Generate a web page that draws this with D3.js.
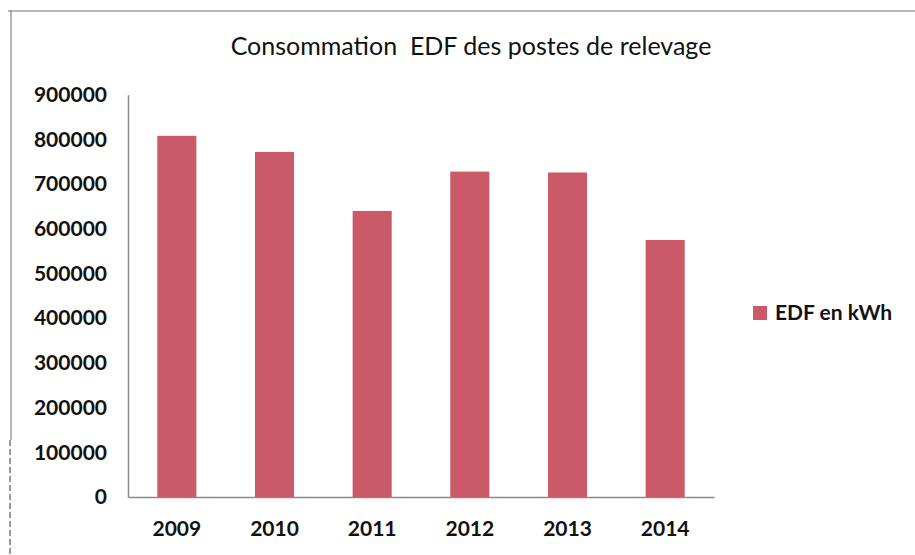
<!DOCTYPE html>
<html>
<head>
<meta charset="utf-8">
<script src="https://cdn.jsdelivr.net/npm/d3@7"></script>
<style>
  body { margin: 0; background: #fff; }
  svg { display: block; }
  svg text { font-family: Lato, "Noto Sans", sans-serif; }
</style>
</head>
<body>
<div id="chart"></div>
<script>
// données
var annees = ["2009", "2010", "2011", "2012", "2013", "2014"];
var edfKwh = [808000, 772000, 640000, 728000, 726000, 575000];
var graduations = [0, 100000, 200000, 300000, 400000, 500000, 600000, 700000, 800000, 900000];
var titre = "Consommation\u00a0\u00a0EDF des postes de relevage";
var legende = "EDF en kWh";

var W = 915, H = 555;
var couleur = "#cb5a69";

var svg = d3.select("#chart")
    .append("svg")
    .attr("width", W)
    .attr("height", H);

// cadre (bord haut et gauche)
svg.append("line")
    .attr("x1", 8).attr("x2", W).attr("y1", 11).attr("y2", 11)
    .attr("stroke", "#b8b8c0").attr("stroke-width", 2);
svg.append("line")
    .attr("x1", 11).attr("x2", 11).attr("y1", 10).attr("y2", 440)
    .attr("stroke", "#9a9a9a").attr("stroke-width", 1.5);
svg.append("line")
    .attr("x1", 10).attr("x2", 10).attr("y1", 440).attr("y2", H)
    .attr("stroke", "#555").attr("stroke-width", 1.2)
    .attr("stroke-dasharray", "6,3");

var x = d3.scaleBand()
    .domain(annees)
    .range([128, 714])
    .paddingInner(0.6)
    .paddingOuter(0.3);

var y = d3.scaleLinear()
    .domain([0, 900000])
    .range([497, 94.7]);

// axe Y
var axeY = svg.append("g")
    .attr("transform", "translate(128,0)")
    .call(d3.axisLeft(y).tickValues(graduations).tickSize(0).tickPadding(21).tickFormat(d3.format("d")));
axeY.attr("font-family", null);
axeY.select(".domain").attr("stroke", "#8a8a8a").attr("stroke-width", 1.5);
axeY.selectAll("text")
    .attr("font-size", 21)
    .attr("font-weight", "bold")
    .attr("fill", "#111");

// axe X
var axeX = svg.append("g")
    .attr("transform", "translate(0,497)")
    .call(d3.axisBottom(x).tickSize(0).tickPadding(24));
axeX.attr("font-family", null);
axeX.select(".domain").attr("stroke", "#8a8a8a").attr("stroke-width", 1.5);
axeX.selectAll("text")
    .attr("font-size", 21)
    .attr("font-weight", "bold")
    .attr("fill", "#111");

// barres
svg.append("g")
    .selectAll("rect")
    .data(edfKwh)
    .enter()
    .append("rect")
    .attr("x", (d, i) => x(annees[i]))
    .attr("y", d => y(d))
    .attr("width", x.bandwidth())
    .attr("height", d => y(0) - y(d))
    .attr("fill", couleur);

// titre
svg.append("text")
    .attr("x", 471)
    .attr("y", 55)
    .attr("text-anchor", "middle")
    .attr("font-size", 25)
    .attr("fill", "#111")
    .text(titre);

// légende
svg.append("rect")
    .attr("x", 753).attr("y", 306)
    .attr("width", 14).attr("height", 14)
    .attr("fill", couleur);
svg.append("text")
    .attr("x", 775)
    .attr("y", 320)
    .attr("font-size", 21)
    .attr("font-weight", "bold")
    .attr("fill", "#111")
    .text(legende);
</script>
</body>
</html>
